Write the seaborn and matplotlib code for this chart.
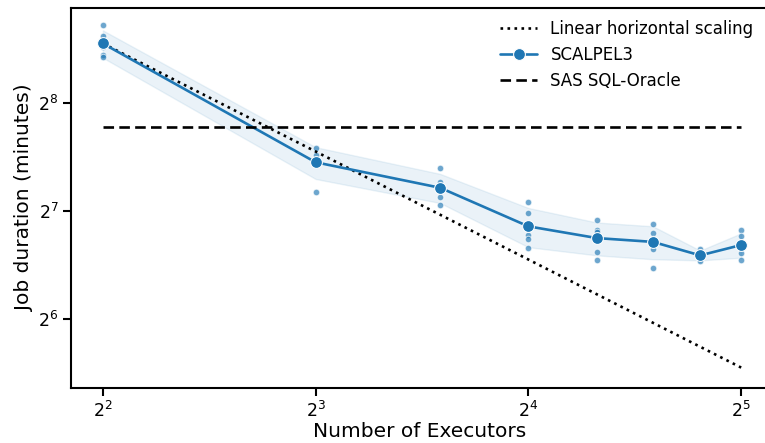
import seaborn as sns
import matplotlib.pyplot as plt
import pandas as pd

# Job durations (minutes), 5 runs per executor count
executors = [4, 8, 12, 16, 20, 24, 28, 32]
runs = [
    [422, 394, 367, 348, 344],
    [192, 183, 178, 177, 145],
    [169, 154, 147, 140, 133],
    [136, 126, 110, 107, 101],
    [121, 113, 112, 98.5, 93.5],
    [118, 111, 107, 100, 89],
    [100.5, 98, 96, 94, 93],
    [113, 109, 101.5, 97.5, 93.5],
]
sas_oracle = 220

rows = []
for n, vals in zip(executors, runs):
    for v in vals:
        rows.append({"executors": n, "duration": v})
df = pd.DataFrame(rows)

# ideal scaling from the 4-executor mean
base = df[df.executors == 4].duration.mean()
linear = pd.DataFrame({"executors": executors,
                       "duration": [base * 4 / n for n in executors]})

sns.set_style("ticks")
plt.rcParams.update({"text.color": "black", "axes.labelcolor": "black",
                     "xtick.color": "black", "ytick.color": "black",
                     "axes.edgecolor": "black"})
fig = plt.figure(figsize=(7.65, 4.43), dpi=100)
ax = fig.add_axes([0.0928, 0.124, 0.912, 0.858])

blue = "#1f77b4"
sns.lineplot(data=linear, x="executors", y="duration", ax=ax, color="black",
             linestyle=":", linewidth=1.9, label="Linear horizontal scaling")
sns.lineplot(data=df, x="executors", y="duration", ax=ax, color=blue,
             marker="o", markersize=8.5, markeredgecolor="white", linewidth=1.9,
             errorbar="sd", err_kws={"alpha": 0.09}, label="SCALPEL3")
sns.scatterplot(data=df, x="executors", y="duration", ax=ax, color=blue,
                alpha=0.65, s=22, edgecolor="white", linewidth=0.8, zorder=1)
ax.plot([executors[0], executors[-1]], [sas_oracle, sas_oracle], color="black",
        linestyle=(0, (4, 2)), linewidth=1.9, label="SAS SQL-Oracle")

ax.set_xscale("log", base=2)
ax.set_yscale("log", base=2)
ax.set_xlim(3.605, 35.0)
ax.set_ylim(41.1, 471)
ax.set_xticks([4, 8, 16, 32])
ax.set_yticks([64, 128, 256])
ax.minorticks_off()

ax.set_xlabel("Number of Executors", fontsize=14.5, labelpad=1)
ax.set_ylabel("Job duration (minutes)", fontsize=14.5, labelpad=3)
ax.tick_params(labelsize=12.5, length=5.5, width=1.5)
for s in ax.spines.values():
    s.set_linewidth(1.5)
ax.spines["right"].set_visible(False)

ax.legend(loc="upper right", bbox_to_anchor=(0.995, 1.0), frameon=False,
          fontsize=12, handlelength=2.2, borderaxespad=0.3)

fig.savefig("out.png", dpi=100)
